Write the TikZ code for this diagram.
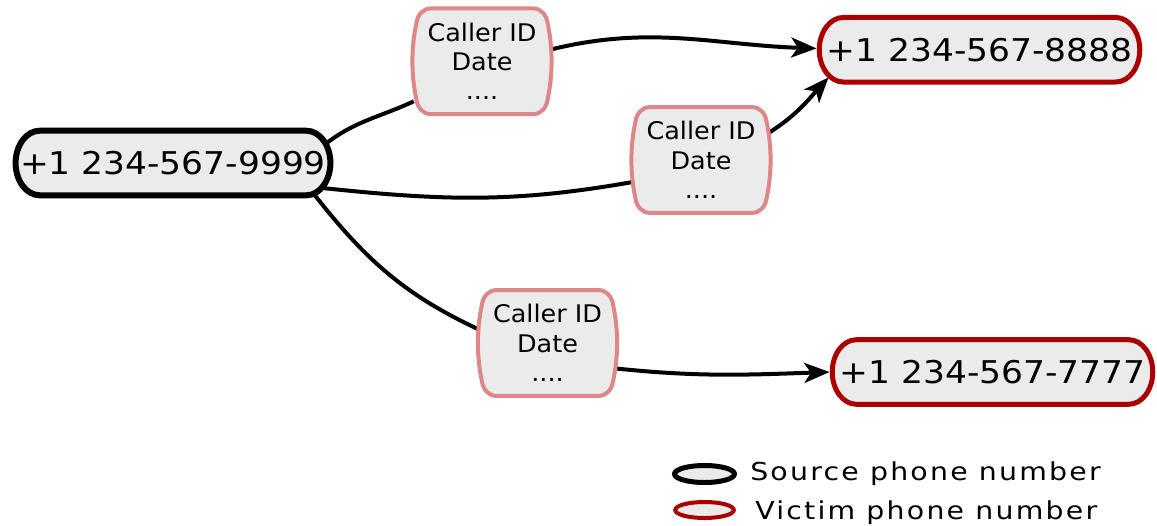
\documentclass[tikz,border=0pt]{standalone}
\usepackage{fontspec}
\setmainfont{DejaVu Sans}
\newfontfamily\phonefont[FakeStretch=1.1]{DejaVu Sans}
\newfontfamily\boxfont[FakeStretch=1.05]{DejaVu Sans}
\newfontfamily\legendfont[FakeStretch=1.15,LetterSpace=9]{DejaVu Sans}
\usetikzlibrary{arrows.meta,shapes.geometric}

\definecolor{nodefill}{HTML}{EBEBEB}
\definecolor{victimred}{HTML}{AA0000}
\definecolor{callerpink}{HTML}{DE8787}

\pgfdeclarelayer{edges}
\pgfdeclarelayer{shapes}
\pgfsetlayers{edges,shapes,main}

\tikzset{
  phone/.style={rectangle, minimum width=240pt, minimum height=48pt,
    inner sep=0pt, font=\phonefont\fontsize{23.5}{27}\selectfont},
  sourceline/.style={draw=black, fill=nodefill, line width=4.5pt},
  victimline/.style={draw=victimred, fill=nodefill, line width=3.75pt},
  caller/.style={rectangle, minimum width=106pt, minimum height=79pt,
    inner sep=0pt, align=center,
    font=\boxfont\fontsize{18.2}{22.1}\selectfont},
  barrel/.style={draw=callerpink, fill=nodefill, line width=3pt},
  link/.style={line width=3pt},
  arrowlink/.style={link, -{Stealth[length=19pt,width=15pt,inset=5pt]}},
  legendmark/.style={ellipse, fill=nodefill, inner sep=0pt},
  legendtext/.style={anchor=base west, inner sep=0pt,
    font=\legendfont\fontsize{18.5}{22}\selectfont}
}

% pill outline with elliptic ends behind a phone node
\newcommand{\pill}[2]{%
  \begin{pgfonlayer}{shapes}
  \path[#2] ([xshift=18pt]#1.north west) -- ([xshift=-18pt]#1.north east)
    .. controls ([xshift=-8pt]#1.north east) and ([yshift=13.2pt]#1.east) .. (#1.east)
    .. controls ([yshift=-13.2pt]#1.east) and ([xshift=-8pt]#1.south east) ..
    ([xshift=-18pt]#1.south east)
    -- ([xshift=18pt]#1.south west)
    .. controls ([xshift=8pt]#1.south west) and ([yshift=-13.2pt]#1.west) .. (#1.west)
    .. controls ([yshift=13.2pt]#1.west) and ([xshift=8pt]#1.north west) ..
    ([xshift=18pt]#1.north west) -- cycle;
  \end{pgfonlayer}}

% barrel-shaped outline (rounded corners, bulging sides) behind a caller node
\newcommand{\barrel}[1]{%
  \begin{pgfonlayer}{shapes}
  \path[barrel] ([xshift=15pt]#1.north west) -- ([xshift=-15pt]#1.north east)
    to[out=0,in=98] ([xshift=-4pt,yshift=-11pt]#1.north east)
    .. controls ([yshift=-30pt]#1.north east) and ([yshift=30pt]#1.south east) ..
    ([xshift=-4pt,yshift=11pt]#1.south east)
    to[out=-98,in=0] ([xshift=-15pt]#1.south east)
    -- ([xshift=15pt]#1.south west)
    to[out=180,in=-82] ([xshift=4pt,yshift=11pt]#1.south west)
    .. controls ([yshift=30pt]#1.south west) and ([yshift=-30pt]#1.north west) ..
    ([xshift=4pt,yshift=-11pt]#1.north west)
    to[out=82,in=180] ([xshift=15pt]#1.north west) -- cycle;
  \end{pgfonlayer}}

\begin{document}
\begin{tikzpicture}[x=0.75pt,y=0.75pt]
  \useasboundingbox (0,0) rectangle (1157,-525);

  % phone numbers
  \node[phone, minimum width=235.7pt] (src) at (173,-163) {+1 234-567-9999};
  \node[phone] (v1) at (979.5,-49.75) {+1 234-567-8888};
  \node[phone] (v2) at (992.5,-372) {+1 234-567-7777};
  \pill{src}{sourceline}\pill{v1}{victimline}\pill{v2}{victimline}

  % call records
  \node[caller] (b1) at (482,-61.3) {Caller ID\\Date\\....};
  \node[caller] (b2) at (701,-160) {Caller ID\\Date\\....};
  \node[caller] (b3) at (547.5,-343) {Caller ID\\Date\\....};
  \barrel{b1}\barrel{b2}\barrel{b3}

  % calls
  \begin{pgfonlayer}{edges}
    \draw[link] ([xshift=-4pt,yshift=14pt]src.east) to[out=38,in=205]
      ([xshift=2pt,yshift=-30pt]b1.west);
    \draw[arrowlink] ([xshift=-3pt,yshift=8.5pt]b1.east) to[out=14,in=178]
      ([xshift=-2pt,yshift=1pt]v1.west);
    \draw[link] ([xshift=-6pt,yshift=-18.75pt]src.east) to[out=-6,in=190]
      ([xshift=2pt,yshift=-16.5pt]b2.west);
    \draw[arrowlink] ([xshift=-3pt,yshift=20pt]b2.east) to[out=32,in=228]
      ([xshift=7pt,yshift=3.5pt]v1.south west);
    \draw[link] ([xshift=-14pt,yshift=3pt]src.south east) to[out=-52,in=155]
      ([xshift=2pt,yshift=10pt]b3.west);
    \draw[arrowlink] ([xshift=-3pt,yshift=-19pt]b3.east) to[out=-6,in=182]
      ([xshift=-2pt]v2.west);
  \end{pgfonlayer}

  % legend
  \node[legendmark, draw=black, line width=3.75pt,
    minimum width=45pt, minimum height=12.75pt] (lsrc) at (704.5,-474) {};
  \node[legendmark, draw=victimred, line width=3pt,
    minimum width=44pt, minimum height=12pt] (lvic) at (704.5,-510) {};
  \node[legendtext] (tsrc) at (750,-480) {Source phone number};
  \node[legendtext] (tvic) at (755,-519.5) {Victim phone number};
\end{tikzpicture}
\end{document}
